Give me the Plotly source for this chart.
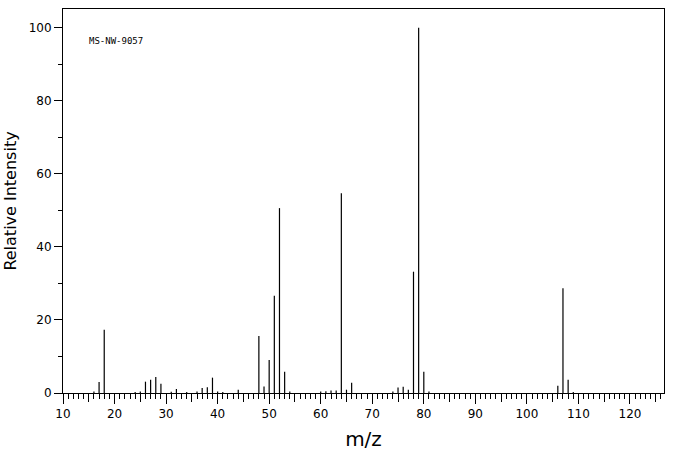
import plotly.graph_objects as go

# m/z values and relative intensities
mz = [16, 17, 18, 24, 25, 26, 27, 28, 29, 31, 32, 34, 36, 37, 38, 39, 40, 41,
      44, 48, 49, 50, 51, 52, 53, 54, 60, 61, 62, 63, 64, 65, 66, 74, 75, 76,
      77, 78, 79, 80, 81, 106, 107, 108, 109]
intensity = [0.4, 3.0, 17.3, 0.3, 0.4, 3.1, 3.6, 4.4, 2.5, 0.35, 1.1, 0.3, 0.4,
             1.4, 1.6, 4.2, 0.4, 0.3, 0.9, 15.6, 1.8, 9.0, 26.6, 50.6, 5.8, 0.4,
             0.4, 0.5, 0.7, 0.7, 54.7, 0.9, 2.8, 0.4, 1.5, 1.7, 0.9, 33.2, 100.0,
             5.8, 0.4, 2.0, 28.7, 3.6, 0.3]
y_ticks = [0, 20, 40, 60, 80, 100]
x_ticks = list(range(10, 130, 10))
label_text = "MS-NW-9057"

xs, ys = [], []
for m, h in zip(mz, intensity):
    xs += [m, m, None]
    ys += [0, h, None]

fig = go.Figure()
fig.add_trace(go.Scatter(x=xs, y=ys, mode="lines",
                         line=dict(color="black", width=1.2),
                         hoverinfo="skip", showlegend=False))
fig.add_trace(go.Scatter(x=[], y=[], xaxis="x2", showlegend=False))

xr = [10, 126.6]
font = dict(family="DejaVu Sans", size=12, color="black")
fig.update_layout(
    width=676, height=455,
    margin=dict(l=63, r=12, t=9, b=62),
    paper_bgcolor="white", plot_bgcolor="white",
    font=font,
    xaxis=dict(range=xr, tickvals=x_ticks, ticks="outside", ticklen=10,
               tickcolor="black", tickwidth=1,
               minor=dict(dtick=1, tick0=10, ticks="outside", ticklen=5,
                          tickcolor="black", tickwidth=1, showgrid=False),
               showline=True, linecolor="black", linewidth=1, mirror=True,
               showgrid=False, zeroline=False, tickfont=font,
               title=dict(text="m/z", font=dict(family="DejaVu Sans", size=20,
                                                color="black"), standoff=11)),
    xaxis2=dict(range=xr, overlaying="x", side="bottom", anchor="y",
                tick0=15, dtick=10, ticks="outside", ticklen=8,
                tickcolor="black", tickwidth=1, showticklabels=False,
                showgrid=False, zeroline=False, showline=False),
    yaxis=dict(range=[0, 105.1], tickvals=y_ticks, ticks="outside", ticklen=8,
               tickcolor="black", tickwidth=1,
               minor=dict(dtick=10, tick0=0, ticks="outside", ticklen=4,
                          tickcolor="black", tickwidth=1, showgrid=False),
               showline=True, linecolor="black", linewidth=1, mirror=True,
               showgrid=False, zeroline=False, tickfont=font,
               title=dict(text="Relative Intensity",
                          font=dict(family="DejaVu Sans", size=16, color="black"),
                          standoff=8)),
    annotations=[dict(text=label_text, xref="paper", yref="paper",
                      x=0.04, y=0.917, xanchor="left", yanchor="middle",
                      showarrow=False,
                      font=dict(family="DejaVu Sans Mono", size=9, color="black"))],
)

fig.write_html("out.html")
